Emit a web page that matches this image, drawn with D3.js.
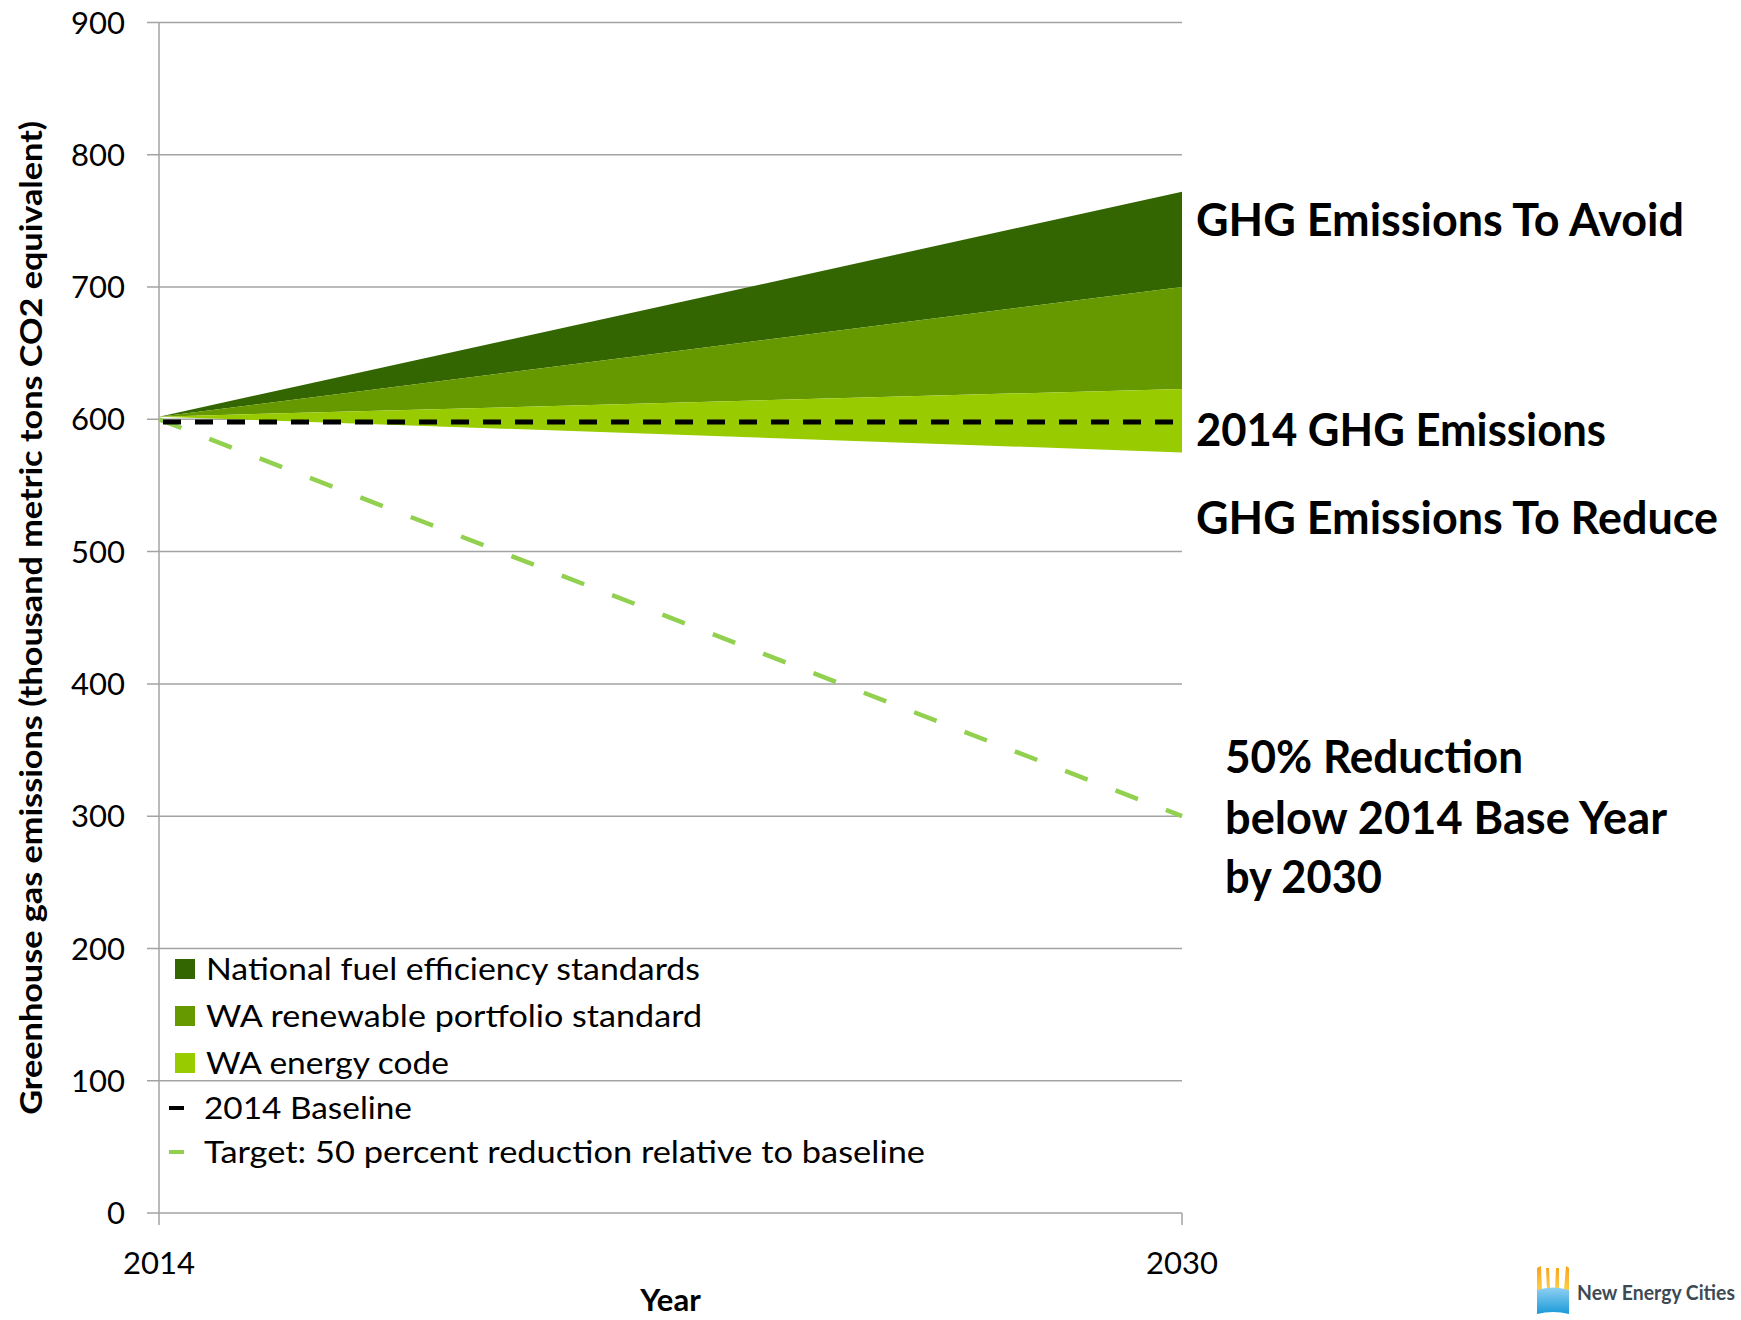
<!DOCTYPE html>
<html>
<head>
<meta charset="utf-8">
<script src="https://cdn.jsdelivr.net/npm/d3@7"></script>
<style>
  body { margin: 0; background: #fff; }
  text { font-family: Lato, "Open Sans", sans-serif; }
</style>
</head>
<body>
<div id="chart"></div>
<script>
// values (thousand metric tons CO2e)
var years = [2014, 2030];
var yTicks = [0, 100, 200, 300, 400, 500, 600, 700, 800, 900];
var wedgeBase = [602, 575];   // lower edge of the energy code wedge
var energyCode = [602, 623];
var renewable = [602, 700];
var national = [602, 772];
var baseline = [598, 598];
var target = [600, 300];

var bandNames = ["National fuel efficiency standards", "WA renewable portfolio standard", "WA energy code"];
var lineNames = ["2014 Baseline", "Target: 50 percent reduction relative to baseline"];
var notes = ["GHG Emissions To Avoid", "2014 GHG Emissions", "GHG Emissions To Reduce"];
var targetNote = ["50% Reduction", "below 2014 Base Year", "by 2030"];

var W = 1741, H = 1320;
var plotL = 159, plotR = 1182, plotT = 22.5, plotB = 1213;
var gridColor = "#a3a3a3";
var bandColors = ["#336600", "#669900", "#99cc00"];
var targetColor = "#92d050";

var svg = d3.select("#chart")
    .append("svg")
    .attr("width", W)
    .attr("height", H);

var x = d3.scaleLinear().domain([2014, 2030]).range([plotL, plotR]);
var y = d3.scaleLinear().domain([0, 900]).range([plotB, plotT]);

// stretch text to a given width, the original font is narrow
function fit(sel, w) {
    sel.attr("textLength", w).attr("lengthAdjust", "spacingAndGlyphs");
}

// gridlines
svg.append("g")
    .selectAll("line")
    .data(yTicks)
    .enter()
    .append("line")
    .attr("x1", plotL - 12)
    .attr("x2", plotR)
    .attr("y1", function (d) { return y(d); })
    .attr("y2", function (d) { return y(d); })
    .style("stroke", gridColor)
    .style("stroke-width", 1.5);

// stacked wedges
var bands = [
    { lo: renewable, hi: national },
    { lo: energyCode, hi: renewable },
    { lo: wedgeBase, hi: energyCode }
];
var area = d3.area()
    .x(function (d, i) { return x(years[i]); })
    .y0(function (d) { return y(d[0]); })
    .y1(function (d) { return y(d[1]); });

svg.append("g")
    .selectAll("path")
    .data(bands)
    .enter()
    .append("path")
    .attr("d", function (b) { return area(years.map(function (yr, i) { return [b.lo[i], b.hi[i]]; })); })
    .style("fill", function (b, i) { return bandColors[i]; });

// y axis line and x axis ticks
svg.append("line")
    .attr("x1", plotL).attr("x2", plotL)
    .attr("y1", y(900)).attr("y2", plotB + 12)
    .style("stroke", gridColor).style("stroke-width", 1.5);
svg.append("line")
    .attr("x1", plotR).attr("x2", plotR)
    .attr("y1", plotB).attr("y2", plotB + 12)
    .style("stroke", gridColor).style("stroke-width", 1.5);

// y tick labels
svg.append("g")
    .selectAll("text")
    .data(yTicks)
    .enter()
    .append("text")
    .attr("x", 125)
    .attr("y", function (d) { return y(d); })
    .attr("dy", "0.36em")
    .style("text-anchor", "end")
    .style("font-size", "31px")
    .text(function (d) { return d; });

// x tick labels
svg.append("g")
    .selectAll("text")
    .data(years)
    .enter()
    .append("text")
    .attr("x", function (d) { return x(d); })
    .attr("y", 1274)
    .style("text-anchor", "middle")
    .style("font-size", "31px")
    .text(function (d) { return d; });

// axis titles
svg.append("text")
    .attr("x", (plotL + plotR) / 2)
    .attr("y", 1311)
    .style("text-anchor", "middle")
    .style("font-size", "31px")
    .style("font-weight", "bold")
    .text("Year");

svg.append("text")
    .attr("transform", "translate(42," + (plotT + plotB) / 2 + ") rotate(-90)")
    .style("text-anchor", "middle")
    .style("font-size", "31px")
    .style("font-weight", "bold")
    .text("Greenhouse gas emissions (thousand metric tons CO2 equivalent)")
    .call(fit, 994);

// baseline and target lines
var line = d3.line()
    .x(function (d, i) { return x(years[i]); })
    .y(function (d) { return y(d); });

svg.append("path")
    .attr("d", line(target))
    .style("fill", "none")
    .style("stroke", targetColor)
    .style("stroke-width", 4.5)
    .style("stroke-dasharray", "24,30");

svg.append("path")
    .attr("d", line(baseline))
    .style("fill", "none")
    .style("stroke", "#000")
    .style("stroke-width", 5)
    .style("stroke-dasharray", "18,14")
    .style("stroke-dashoffset", -4);

// legend
var legend = svg.append("g");
var legY = [969, 1016, 1063];
bandNames.forEach(function (name, i) {
    legend.append("rect")
        .attr("x", 175).attr("y", legY[i] - 10)
        .attr("width", 20).attr("height", 20)
        .style("fill", bandColors[i]);
    legend.append("text")
        .attr("x", 206).attr("y", legY[i])
        .attr("dy", "0.36em")
        .style("font-size", "31px")
        .text(name)
        .call(fit, [494, 496, 243][i]);
});
var lineY = [1108, 1152];
lineNames.forEach(function (name, i) {
    legend.append("line")
        .attr("x1", 169).attr("x2", 184)
        .attr("y1", lineY[i]).attr("y2", lineY[i])
        .style("stroke", i === 0 ? "#000" : targetColor)
        .style("stroke-width", 4);
    legend.append("text")
        .attr("x", 204).attr("y", lineY[i])
        .attr("dy", "0.36em")
        .style("font-size", "31px")
        .text(name)
        .call(fit, [208, 721][i]);
});

// annotations on the right
var noteY = [220, 430, 518];
var noteW = [488, 410, 522];
notes.forEach(function (t, i) {
    svg.append("text")
        .attr("x", 1196).attr("y", noteY[i])
        .attr("dy", "0.36em")
        .style("font-size", "45px")
        .style("font-weight", "bold")
        .text(t)
        .call(fit, noteW[i]);
});
var tY = [757, 818, 877];
var tW = [298, 442, 157];
targetNote.forEach(function (t, i) {
    svg.append("text")
        .attr("x", 1225).attr("y", tY[i])
        .attr("dy", "0.36em")
        .style("font-size", "45px")
        .style("font-weight", "bold")
        .text(t)
        .call(fit, tW[i]);
});

// New Energy Cities logo
var defs = svg.append("defs");
var sun = defs.append("linearGradient").attr("id", "sun").attr("x1", 0).attr("y1", 0).attr("x2", 0).attr("y2", 1);
sun.append("stop").attr("offset", "0%").attr("stop-color", "#f7a21b");
sun.append("stop").attr("offset", "100%").attr("stop-color", "#ffd24a");
var sea = defs.append("linearGradient").attr("id", "sea").attr("x1", 0).attr("y1", 0).attr("x2", 0).attr("y2", 1);
sea.append("stop").attr("offset", "0%").attr("stop-color", "#8fd0f2");
sea.append("stop").attr("offset", "100%").attr("stop-color", "#1a9ad8");

var logo = svg.append("g").attr("transform", "translate(1537,1266)");
logo.append("path")
    .attr("d", "M0,2 L4,0 L5,24 L10,24 L9,2 L12,2 L13,24 L18,24 L19,2 L22,2 L22,24 L27,24 L29,0 L32,2 L32,26 L0,26 Z")
    .style("fill", "url(#sun)");
logo.append("path")
    .attr("d", "M0,24 Q16,19 32,24 L32,48 Q16,44 0,48 Z")
    .style("fill", "url(#sea)");
svg.append("text")
    .attr("x", 1577).attr("y", 1293)
    .attr("dy", "0.36em")
    .style("font-size", "20px")
    .style("font-weight", "bold")
    .style("fill", "#3d4a54")
    .text("New Energy Cities")
    .call(fit, 158);
</script>
</body>
</html>
